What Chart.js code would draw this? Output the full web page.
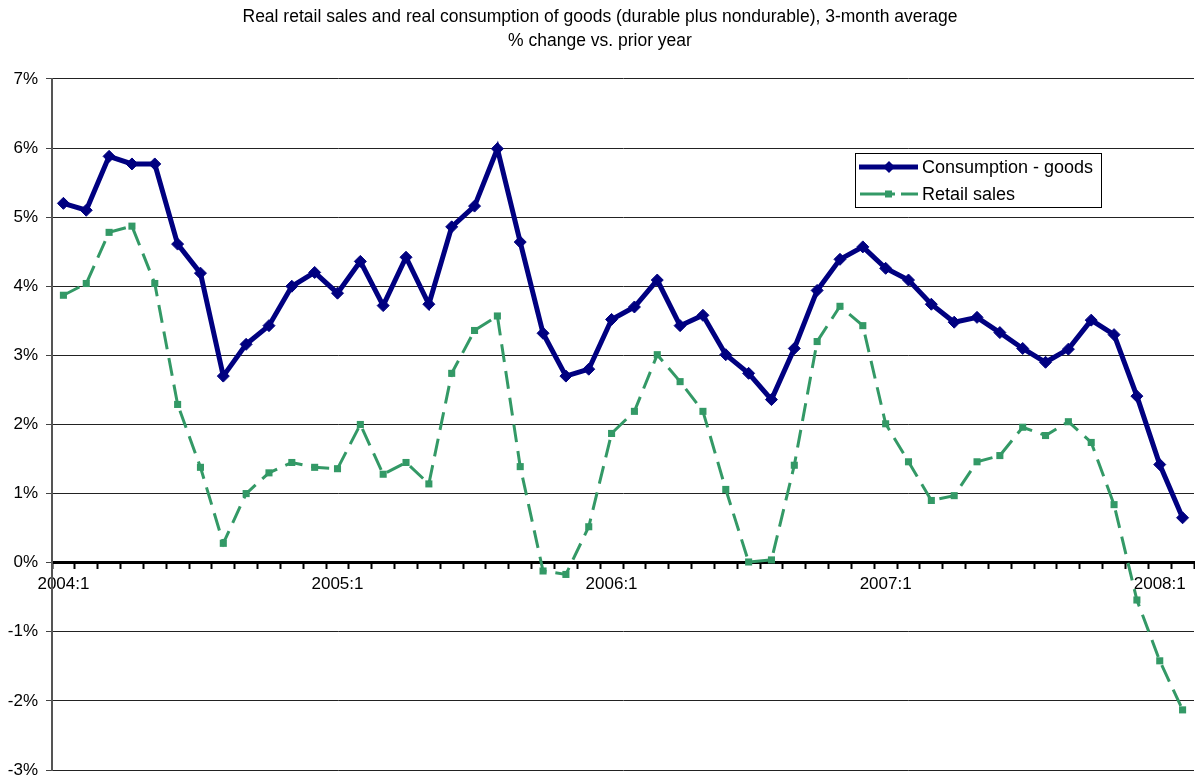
<!DOCTYPE html>
<html>
<head>
<meta charset="utf-8">
<title>Real retail sales and real consumption of goods</title>
<script src="https://cdn.jsdelivr.net/npm/chart.js@4.4.1/dist/chart.umd.min.js"></script>
<style>
  html, body { margin: 0; padding: 0; background: #fff; overflow: hidden; }
  /* a few px wider than the page so the plot runs to the right edge */
  #wrap { width: 1201px; height: 782px; position: relative; }
</style>
</head>
<body>
<div id="wrap"><canvas id="chart"></canvas></div>
<script>
// Monthly periods, 2004:1 .. 2008:2
const years = [2004, 2005, 2006, 2007, 2008];
const lastMonth2008 = 2;

// 3-month average, % change vs. prior year
const consumptionGoods = [
  5.20, 5.10, 5.88, 5.77, 5.77, 4.61, 4.19, 2.70, 3.16, 3.43, 4.00, 4.20,
  3.90, 4.36, 3.72, 4.42, 3.74, 4.86, 5.16, 5.99, 4.64, 3.32, 2.70, 2.80,
  3.52, 3.70, 4.09, 3.43, 3.58, 3.01, 2.74, 2.36, 3.10, 3.94, 4.39, 4.57,
  4.26, 4.09, 3.74, 3.48, 3.55, 3.33, 3.10, 2.90, 3.09, 3.51, 3.30, 2.41,
  1.42, 0.65
];
const retailSales = [
  3.87, 4.04, 4.78, 4.87, 4.04, 2.29, 1.38, 0.28, 1.00, 1.30, 1.45, 1.38,
  1.36, 2.00, 1.28, 1.45, 1.14, 2.74, 3.36, 3.57, 1.39, -0.12, -0.17, 0.52,
  1.87, 2.19, 3.01, 2.62, 2.19, 1.06, 0.01, 0.04, 1.41, 3.20, 3.71, 3.43,
  2.01, 1.46, 0.90, 0.97, 1.46, 1.55, 1.96, 1.84, 2.04, 1.74, 0.84, -0.54,
  -1.42, -2.13
];

const yMin = -3;
const yMax = 7;

const periods = [];
years.forEach(y => {
  const last = y === 2008 ? lastMonth2008 : 12;
  for (let m = 1; m <= last; m++) periods.push(y + ':' + m);
});

const FONT = "'Liberation Sans', Arial, sans-serif";
const NAVY = '#000080';
const GREEN = '#339966';

// Boxed legend drawn inside the plot, upper right
const boxLegend = {
  id: 'boxLegend',
  afterDraw(chart) {
    const ctx = chart.ctx;
    const x = 855.5, y = 153.5, w = 246, h = 54;
    ctx.save();
    ctx.fillStyle = '#fff';
    ctx.fillRect(x, y, w, h);
    ctx.strokeStyle = '#000';
    ctx.lineWidth = 1;
    ctx.strokeRect(x, y, w, h);

    // Consumption - goods
    ctx.strokeStyle = NAVY;
    ctx.lineWidth = 5;
    ctx.beginPath();
    ctx.moveTo(859, 167);
    ctx.lineTo(918, 167);
    ctx.stroke();
    ctx.fillStyle = NAVY;
    ctx.beginPath();
    ctx.moveTo(889, 161); ctx.lineTo(895, 167); ctx.lineTo(889, 173); ctx.lineTo(883, 167);
    ctx.closePath();
    ctx.fill();

    // Retail sales
    ctx.strokeStyle = GREEN;
    ctx.lineWidth = 3;
    ctx.setLineDash([35, 6]);
    ctx.beginPath();
    ctx.moveTo(860, 194);
    ctx.lineTo(918, 194);
    ctx.stroke();
    ctx.setLineDash([]);
    ctx.fillStyle = GREEN;
    ctx.fillRect(885, 190.5, 7, 7);

    ctx.fillStyle = '#000';
    ctx.font = '18px ' + FONT;
    ctx.textBaseline = 'middle';
    ctx.fillText('Consumption - goods', 922, 168);
    ctx.fillText('Retail sales', 922, 195);
    ctx.restore();
  }
};

new Chart(document.getElementById('chart'), {
  type: 'line',
  data: {
    labels: periods,
    datasets: [
      {
        label: 'Consumption - goods',
        data: consumptionGoods,
        borderColor: NAVY,
        backgroundColor: NAVY,
        borderWidth: 5,
        pointStyle: 'rectRot',
        pointRadius: 6,
        pointBorderWidth: 1,
        tension: 0
      },
      {
        label: 'Retail sales',
        data: retailSales,
        borderColor: GREEN,
        backgroundColor: GREEN,
        borderWidth: 3,
        borderDash: [18, 9],
        pointStyle: 'rect',
        pointRadius: 5,
        pointBorderWidth: 0,
        tension: 0
      }
    ]
  },
  options: {
    responsive: true,
    maintainAspectRatio: false,
    animation: false,
    layout: { padding: { left: 0, right: 1, top: 0, bottom: 0 } },
    plugins: {
      legend: { display: false },
      tooltip: { enabled: false },
      title: {
        display: true,
        text: [
          'Real retail sales and real consumption of goods (durable plus nondurable), 3-month average',
          '% change vs. prior year'
        ],
        color: '#000',
        font: { family: FONT, size: 17.5, weight: 'normal', lineHeight: 1.37 },
        padding: { top: 5, bottom: 26 }
      }
    },
    scales: {
      x: {
        position: { y: 0 },
        offset: true,
        grid: {
          offset: true,
          drawOnChartArea: false,
          drawTicks: true,
          tickLength: 5,
          tickWidth: 2,
          tickColor: '#000'
        },
        border: { display: true, color: '#000', width: 3 },
        ticks: {
          autoSkip: false,
          maxRotation: 0,
          // the tall line box drops the labels a little below the tick marks
          padding: 0,
          color: '#000',
          font: { family: FONT, size: 17, lineHeight: 1.9 },
          callback: (v, i) => (i % 12 === 0 ? periods[i] : '')
        }
      },
      y: {
        min: yMin,
        max: yMax,
        afterFit: (scale) => {
          scale.width = 52;
          scale.paddingTop = 0;
          scale.paddingBottom = 12;
        },
        grid: {
          color: '#222',
          lineWidth: 1,
          tickLength: 6,
          tickColor: '#444'
        },
        border: { display: true, color: '#555', width: 2 },
        ticks: {
          stepSize: 1,
          padding: 8,
          color: '#000',
          font: { family: FONT, size: 17 },
          callback: (v) => v + '%'
        }
      }
    }
  },
  plugins: [boxLegend]
});
</script>
</body>
</html>
